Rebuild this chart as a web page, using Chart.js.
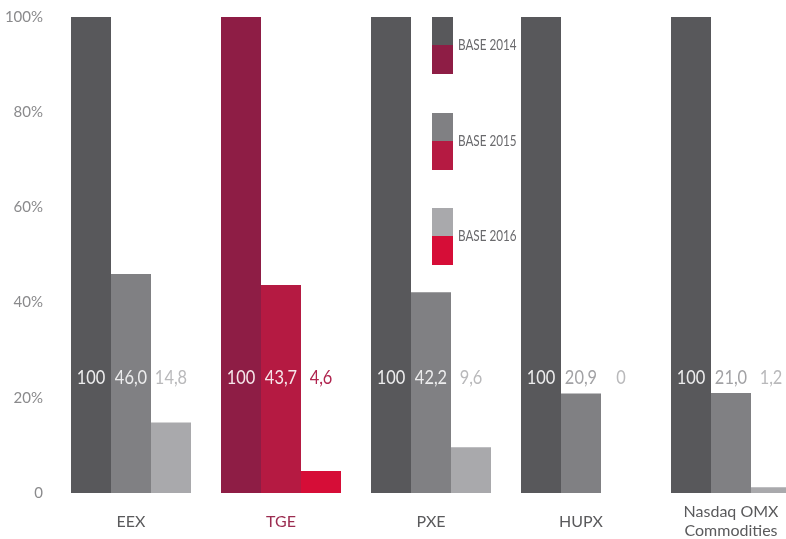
<!DOCTYPE html>
<html>
<head>
<meta charset="utf-8">
<script src="https://cdn.jsdelivr.net/npm/chart.js@4/dist/chart.umd.min.js"></script>
<style>
  html, body { margin: 0; padding: 0; overflow: hidden; background: #fff; }
  #wrap { width: 806px; height: 539px; }
</style>
</head>
<body>
<div id="wrap"><canvas id="chart" width="806" height="539"></canvas></div>
<script>
// data
const exchanges = ["EEX", "TGE", "PXE", "HUPX", ["Nasdaq OMX", "Commodities"]];
const base2014 = [100, 100, 100, 100, 100];
const base2015 = [46.0, 43.7, 42.2, 20.9, 21.0];
const base2016 = [14.8, 4.6, 9.6, 0, 1.2];
const seriesNames = ["BASE 2014", "BASE 2015", "BASE 2016"];
const yTicks = [0, 20, 40, 60, 80, 100];

const FONT = "Lato, 'Open Sans', sans-serif";

// grey for most exchanges, red shades for TGE
const greys = ["#58585b", "#808083", "#a9a9ac"];
const reds = ["#8e1d45", "#b51a42", "#d60d37"];
const tgeIndex = 1;
const labelAt = 24.2; // value labels sit at this height

function colorsFor(k) {
  return exchanges.map((_, i) => (i === tgeIndex ? reds[k] : greys[k]));
}

function fmt(v) {
  if (v === 100 || v === 0) return String(v);
  return v.toFixed(1).replace(".", ",");
}

// draw text squeezed horizontally (the original uses a condensed face)
function squeezed(ctx, text, x, y, sx) {
  ctx.save();
  ctx.translate(x, y);
  ctx.scale(sx, 1);
  ctx.fillText(text, 0, 0);
  ctx.restore();
}

const valueLabels = {
  id: "valueLabels",
  afterDatasetsDraw(chart) {
    const { ctx, scales } = chart;
    const y = scales.y.getPixelForValue(labelAt);
    ctx.save();
    ctx.font = "20px " + FONT;
    ctx.textAlign = "center";
    ctx.textBaseline = "middle";
    chart.data.datasets.forEach((ds, k) => {
      const meta = chart.getDatasetMeta(k);
      meta.data.forEach((bar, i) => {
        const v = ds.data[i];
        const inside = v > labelAt + 4;
        let col;
        if (inside) col = i === tgeIndex ? "#f6e6ea" : "#ededee";
        else if (i === tgeIndex) col = "#b0244f";
        else col = k === 1 ? "#a2a2a5" : "#b9b9bb";
        ctx.fillStyle = col;
        squeezed(ctx, fmt(v), bar.x, y, 0.82);
      });
    });
    ctx.restore();
  }
};

// legend: split swatch (grey on top, red below) with text
const splitLegend = {
  id: "splitLegend",
  afterDraw(chart) {
    const { ctx } = chart;
    const tops = [17, 113, 208];
    ctx.save();
    ctx.font = "15px " + FONT;
    ctx.textBaseline = "middle";
    ctx.textAlign = "left";
    tops.forEach((t, k) => {
      ctx.fillStyle = greys[k];
      ctx.fillRect(432, t, 21, 28);
      ctx.fillStyle = reds[k];
      ctx.fillRect(432, t + 28, 21, 29);
      ctx.fillStyle = "#6a6a6d";
      squeezed(ctx, seriesNames[k], 458, t + 28, 0.78);
    });
    ctx.restore();
  }
};

new Chart(document.getElementById("chart"), {
  type: "bar",
  data: {
    labels: exchanges,
    datasets: [base2014, base2015, base2016].map((d, k) => ({
      label: seriesNames[k],
      data: d,
      backgroundColor: colorsFor(k),
      borderWidth: 0,
      categoryPercentage: 0.8,
      barPercentage: 1.0
    }))
  },
  options: {
    responsive: false,
    animation: false,
    layout: { padding: { top: 17, left: 0, right: 0, bottom: 0 } },
    plugins: { legend: { display: false }, tooltip: { enabled: false } },
    scales: {
      x: {
        grid: { display: false, drawTicks: false },
        border: { display: false },
        ticks: {
          font: { family: FONT, size: 16 },
          color: (c) => (c.index === tgeIndex ? "#9b2c50" : "#5a5a5c"),
          crossAlign: "center",
          padding: 19
        },
        afterFit: (s) => { s.height = 46; }
      },
      y: {
        min: 0,
        max: 100,
        grid: { display: false, drawTicks: false },
        border: { display: false },
        afterBuildTicks: (s) => { s.ticks = yTicks.map((v) => ({ value: v })); },
        ticks: {
          font: { family: FONT, size: 15 },
          color: "#8a8a8c",
          padding: 13,
          callback: (v) => (v === 0 ? "0" : v + "%")
        },
        afterFit: (s) => { s.width = 56; s.paddingTop = 0; s.paddingBottom = 0; }
      }
    }
  },
  plugins: [valueLabels, splitLegend]
});
</script>
</body>
</html>
